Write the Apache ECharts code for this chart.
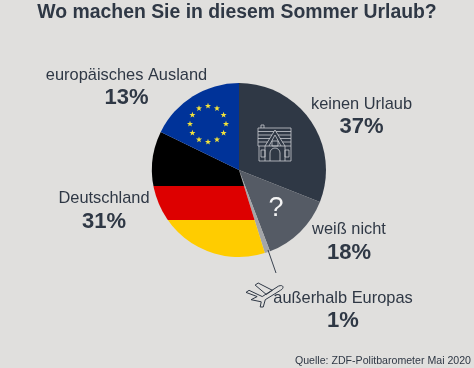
<!DOCTYPE html>
<html>
<head>
<meta charset="utf-8">
<style>
html, body { margin: 0; padding: 0; background: #e0dfdd; }
#chart { width: 474px; height: 368px; }
</style>
<script src="https://cdn.jsdelivr.net/npm/echarts@6/dist/echarts.min.js"></script>
</head>
<body>
<div id="chart"></div>
<script>
// the labels do not match the drawn arcs in the original, so both are kept
const categories = ['keinen Urlaub', 'weiß nicht', 'außerhalb Europas', 'Deutschland', 'europäisches Ausland']
const percentLabels = ['37%', '18%', '1%', '31%', '13%']
const arcValues = [31, 13.2, 1, 37, 17.8]
const titleText = 'Wo machen Sie in diesem Sommer Urlaub?'
const sourceText = 'Quelle: ZDF-Politbarometer Mai 2020'

const cx = 239, cy = 170, radius = 87
const dark = '#2f3845'

// german flag: horizontal bands, hard stops in page coordinates
const flagTop = 120, flagBottom = 258
const band1 = (186 - flagTop) / (flagBottom - flagTop)
const band2 = (220.5 - flagTop) / (flagBottom - flagTop)
const germany = {
    type: 'linear', x: 0, y: flagTop, x2: 0, y2: flagBottom, global: true,
    colorStops: [
        { offset: 0, color: '#000000' }, { offset: band1, color: '#000000' },
        { offset: band1, color: '#dd0000' }, { offset: band2, color: '#dd0000' },
        { offset: band2, color: '#ffcc00' }, { offset: 1, color: '#ffcc00' }
    ]
}
const sliceColors = [dark, '#555b65', '#a3a5a8', germany, '#003399']

const textPos = [
    { x: 361.5, y: 104, pctY: 127 },
    { x: 349, y: 229, pctY: 253 },
    { x: 343, y: 298, pctY: 321 },
    { x: 104, y: 198, pctY: 222 },
    { x: 126.5, y: 75, pctY: 98 }
]

const graphics = []
categories.forEach((name, i) => {
    const p = textPos[i]
    graphics.push({ type: 'text', x: p.x, y: p.y, style: { text: name, fill: '#2f3845', font: '16.4px "Liberation Sans"', align: 'center', verticalAlign: 'middle' } })
    graphics.push({ type: 'text', x: p.x, y: p.pctY, style: { text: percentLabels[i], fill: '#2f3845', font: 'bold 22px "Liberation Sans"', align: 'center', verticalAlign: 'middle' } })
})
graphics.push({ type: 'text', x: 237, y: 13, style: { text: titleText, fill: '#2f3845', font: 'bold 19.4px "Liberation Sans"', align: 'center', verticalAlign: 'middle' } })
graphics.push({ type: 'text', x: 471, y: 361, style: { text: sourceText, fill: '#2f3845', font: '10.6px "Liberation Sans"', align: 'right', verticalAlign: 'middle' } })

// leader line to the 1% slice
graphics.push({ type: 'line', z: 10, shape: { x1: 268, y1: 250, x2: 276, y2: 273 }, style: { stroke: '#3a4350', lineWidth: 1 } })
// question mark
graphics.push({ type: 'text', z: 10, x: 276, y: 209, style: { text: '?', fill: '#f4f4f4', font: '27px "Liberation Sans"', align: 'center', verticalAlign: 'middle' } })

const housePath = 'M258 128H291V146H258Z M258 131.5H274 M276 131.5H291 M258 135H272 M278 135H291 M258 138.5H270 M280 138.5H291 M258 142H267.5 M282.5 142H291 M261 128V125H264V128 M259 146V161H291V146 M275 130L265 146V161 M275 130L285 146V161 M275 135L269 146 M275 135L281 146 M272 141H278V146H272Z M261 150H265V157H261Z M285 150H289V157H285Z M270 161V153A4.5 4.5 0 0 1 280 153V161'
const planePath = 'M246 292L249 290L262 296L278 286C283 284 284 288 280 290L265 299L263 306L260 306L261 301L251 299L257 296Z M255 285L258 283L272 290L266 294Z'

function starPoints(x, y) {
    const pts = []
    for (let s = 0; s < 10; s++) {
        const r = s % 2 ? 1.3 : 3.2
        const a = s * Math.PI / 5
        pts.push([x + r * Math.sin(a), y - r * Math.cos(a)])
    }
    return pts
}

// icons and stars sit on top of the pie
function renderIcons() {
    const children = [
        { type: 'path', shape: { pathData: housePath, x: 258, y: 125, width: 33, height: 36, layout: 'cover' }, style: { fill: 'none', stroke: '#c9ccd0', lineWidth: 0.8 } },
        { type: 'path', shape: { pathData: planePath, x: 246, y: 283, width: 37, height: 24, layout: 'cover' }, style: { fill: 'none', stroke: '#2f3845', lineWidth: 1 } }
    ]
    for (let k = 0; k < 12; k++) {
        const a = k * Math.PI / 6
        children.push({
            type: 'polygon',
            shape: { points: starPoints(208 + 18 * Math.sin(a), 124 - 18 * Math.cos(a)) },
            style: { fill: '#f2e23a' }
        })
    }
    return { type: 'group', children }
}

const chart = echarts.init(document.getElementById('chart'), null, { renderer: 'canvas' })
chart.setOption({
    animation: false,
    backgroundColor: '#e0dfdd',
    series: [{
        type: 'pie',
        z: 1,
        center: [cx, cy],
        radius: [0, radius],
        startAngle: 90,
        clockwise: true,
        silent: true,
        label: { show: false },
        labelLine: { show: false },
        data: categories.map((name, i) => ({ name, value: arcValues[i], itemStyle: { color: sliceColors[i] } }))
    }, {
        type: 'custom',
        z: 5,
        coordinateSystem: 'none',
        silent: true,
        data: [0],
        renderItem: renderIcons
    }],
    graphic: graphics
})
</script>
</body>
</html>
